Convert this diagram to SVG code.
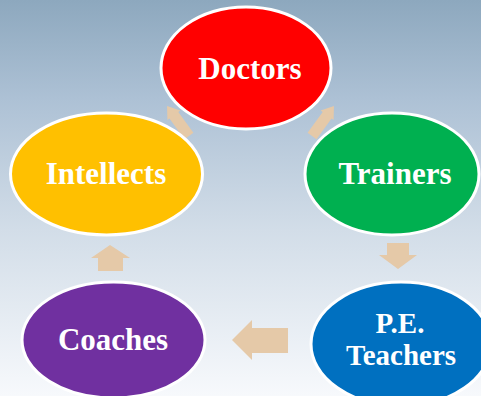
<svg xmlns="http://www.w3.org/2000/svg" width="481" height="396" viewBox="0 0 481 396">
<defs>
<linearGradient id="bg" x1="0" y1="0" x2="0" y2="1">
<stop offset="0" stop-color="#8DA8BE"/>
<stop offset="0.25" stop-color="#ADC1D5"/>
<stop offset="0.58" stop-color="#D2DDE8"/>
<stop offset="1" stop-color="#F7F9FC"/>
</linearGradient>
<path id="thin" d="M-18.5,-5.5 L7,-5.5 L7,-8 L18.5,0 L7,8 L7,5.5 L-18.5,5.5 Z"/>
</defs>
<style>
.node{stroke:#FFFFFF;stroke-width:3}
.lbl{font-family:"Liberation Serif","Times New Roman",serif;font-weight:bold;fill:#FFFFFF;text-anchor:middle}
.arrow{fill:#E5C9A8}
</style>
<rect x="0" y="0" width="481" height="396" fill="url(#bg)"/>
<g id="connectors">
<use href="#thin" class="arrow" transform="translate(178,121) rotate(-126.3)"/>
<use href="#thin" class="arrow" transform="translate(323,121) rotate(-53.7)"/>
<path class="arrow" d="M387,243 L409,243 L409,255 L417,255 L398,269 L379,255 L387,255 Z"/>
<path class="arrow" d="M288,328 L288,353 L252,353 L252,360 L232,340 L252,320 L252,328 Z"/>
<path class="arrow" d="M98,271 L98,258 L91,258 L110,245 L130,258 L123,258 L123,271 Z"/>
</g>
<g id="doctors">
<ellipse class="node" cx="246" cy="68" rx="85" ry="61" fill="#FF0000"/>
<text class="lbl" x="250" y="79" font-size="31">Doctors</text>
</g>
<g id="trainers">
<ellipse class="node" cx="392" cy="174" rx="87" ry="61" fill="#00B050"/>
<text class="lbl" x="395" y="184" font-size="31">Trainers</text>
</g>
<g id="pe-teachers">
<ellipse class="node" cx="401" cy="344" rx="90" ry="62" fill="#0070C0"/>
<text class="lbl" x="400" y="333" font-size="29">P.E.</text>
<text class="lbl" x="401" y="365" font-size="29">Teachers</text>
</g>
<g id="coaches">
<ellipse class="node" cx="113.5" cy="340" rx="91.5" ry="58" fill="#7030A0"/>
<text class="lbl" x="113" y="350" font-size="31">Coaches</text>
</g>
<g id="intellects">
<ellipse class="node" cx="106.5" cy="174" rx="96" ry="61" fill="#FFC000"/>
<text class="lbl" x="106" y="184" font-size="31">Intellects</text>
</g>
</svg>
